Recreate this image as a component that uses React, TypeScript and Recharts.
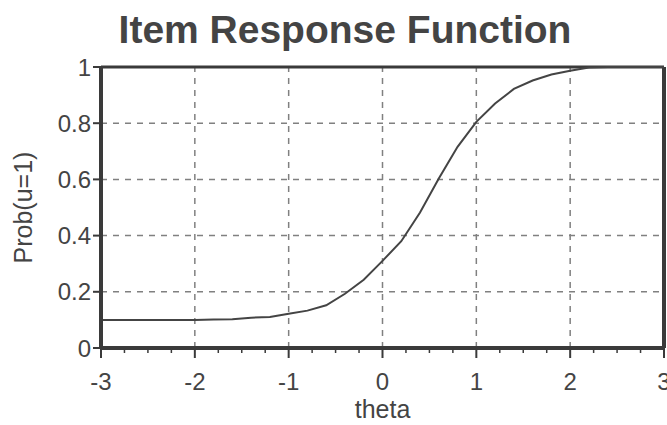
import React from "react";
import {
  LineChart,
  Line,
  XAxis,
  YAxis,
  CartesianGrid,
  ReferenceLine,
} from "recharts";

const thetas = [
  -3, -2.8, -2.6, -2.4, -2.2, -2, -1.8, -1.6, -1.4, -1.2, -1, -0.8, -0.6, -0.4,
  -0.2, 0, 0.2, 0.4, 0.6, 0.8, 1, 1.2, 1.4, 1.6, 1.8, 2, 2.2, 2.4, 2.6, 2.8, 3,
];
const probs = [
  0.1, 0.1, 0.1, 0.1, 0.1, 0.1, 0.101, 0.102, 0.108, 0.11, 0.122, 0.133, 0.152,
  0.193, 0.243, 0.31, 0.38, 0.482, 0.603, 0.716, 0.805, 0.87, 0.922, 0.952,
  0.973, 0.987, 0.998, 1, 1, 1, 1,
];
const xMajorTicks = [-3, -2, -1, 0, 1, 2, 3];
const xAllTicks = [
  -3, -2.75, -2.5, -2.25, -2, -1.75, -1.5, -1.25, -1, -0.75, -0.5, -0.25, 0,
  0.25, 0.5, 0.75, 1, 1.25, 1.5, 1.75, 2, 2.25, 2.5, 2.75, 3,
];
const yTicks = [0, 0.2, 0.4, 0.6, 0.8, 1];
const innerGridX = [-2, -1, 0, 1, 2];

const data = thetas.map((t, i) => ({ theta: t, p: probs[i] }));

const INK = "#444444";
const AXIS = "#3a3a3a";
const GRID = "#808080";
const FONT = "'Liberation Sans', Arial, sans-serif";

const XTick = (props: any) => {
  const { x, y, payload } = props;
  const v = payload.value;
  const major = xMajorTicks.includes(v);
  return (
    <g>
      <line
        x1={x}
        x2={x}
        y1={y}
        y2={y + (major ? 10 : 5)}
        stroke={AXIS}
        strokeWidth={major ? 2 : 1.5}
      />
      {major && (
        <text
          x={x}
          y={y + 42}
          textAnchor="middle"
          fontSize={24}
          fill={INK}
          fontFamily={FONT}
        >
          {String(v)}
        </text>
      )}
    </g>
  );
};

export default function App() {
  return (
    <div
      style={{
        position: "absolute",
        left: 0,
        top: 0,
        width: 667,
        height: 425,
        background: "#ffffff",
      }}
    >
      <div
        style={{
          position: "absolute",
          left: 345,
          top: 10,
          transform: "translateX(-50%)",
          fontFamily: FONT,
          fontWeight: "bold",
          fontSize: 39,
          lineHeight: "39px",
          color: INK,
          whiteSpace: "nowrap",
        }}
      >
        Item Response Function
      </div>
      <LineChart
        width={667}
        height={425}
        data={data}
        margin={{ top: 67, right: 3, bottom: 0, left: 0 }}
      >
        <CartesianGrid
          vertical={false}
          stroke={GRID}
          strokeWidth={1.5}
          strokeDasharray="6 6"
        />
        {innerGridX.map((v) => (
          <ReferenceLine
            key={"g" + v}
            x={v}
            stroke={GRID}
            strokeWidth={1.5}
            strokeDasharray="6 6"
          />
        ))}
        <XAxis
          dataKey="theta"
          type="number"
          domain={[-3, 3]}
          ticks={xAllTicks}
          interval={0}
          height={77}
          tickSize={0}
          tickMargin={0}
          tickLine={false}
          tick={<XTick />}
          axisLine={{ stroke: AXIS, strokeWidth: 4 }}
          label={{
            value: "theta",
            position: "insideBottom",
            offset: 7,
            fontSize: 25,
            fill: INK,
            fontFamily: FONT,
          }}
        />
        <YAxis
          type="number"
          domain={[0, 1]}
          ticks={yTicks}
          interval={0}
          width={101}
          tickSize={8}
          tickMargin={2}
          tickLine={{ stroke: AXIS, strokeWidth: 2 }}
          axisLine={{ stroke: AXIS, strokeWidth: 4 }}
          tick={{ fontSize: 24, fill: INK, fontFamily: FONT }}
          label={{
            value: "Prob(u=1)",
            angle: -90,
            position: "insideLeft",
            offset: 23,
            fontSize: 25,
            fill: INK,
            fontFamily: FONT,
            style: { textAnchor: "middle" },
          }}
        />
        <ReferenceLine y={1} stroke={AXIS} strokeWidth={3} />
        <ReferenceLine x={3} stroke={AXIS} strokeWidth={4} />
        <Line
          type="linear"
          dataKey="p"
          stroke={INK}
          strokeWidth={2}
          dot={false}
          isAnimationActive={false}
        />
      </LineChart>
    </div>
  );
}
